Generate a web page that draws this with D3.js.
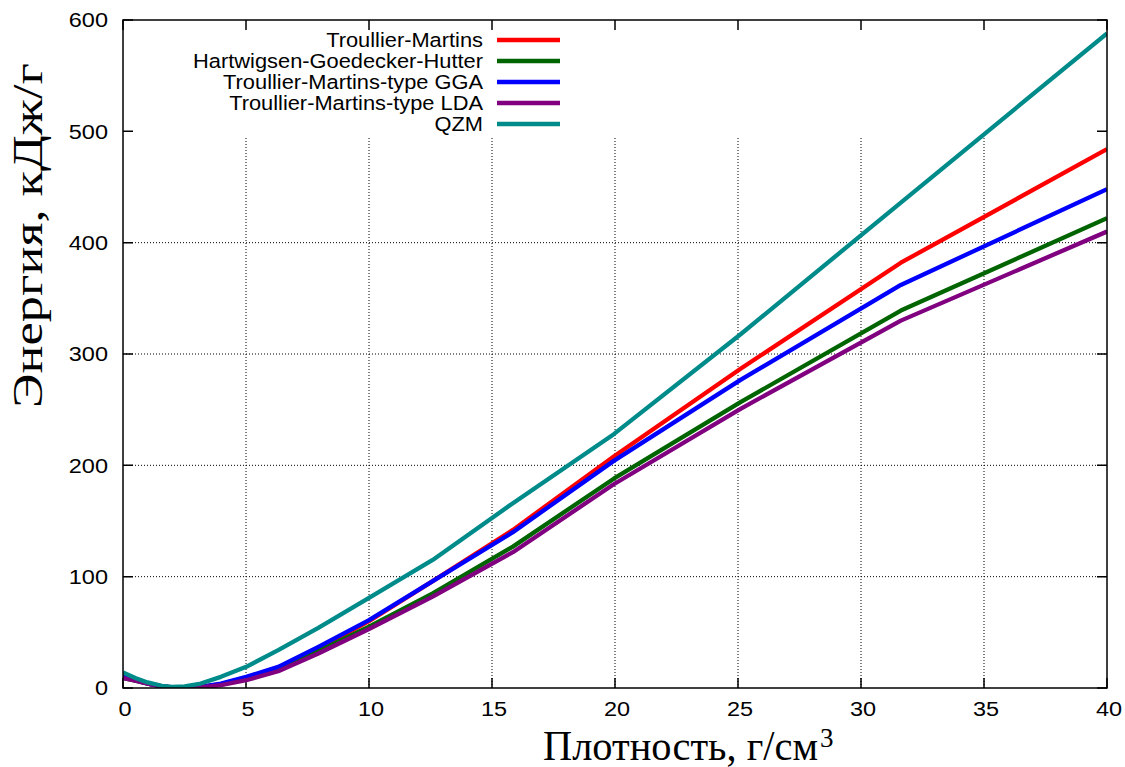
<!DOCTYPE html>
<html>
<head>
<meta charset="utf-8">
<script src="https://d3js.org/d3.v7.min.js"></script>
<style>
  body { margin: 0; background: #fff; }
  svg { display: block; }
</style>
</head>
<body>
<svg id="svg-main" width="1125" height="767"></svg>
<script>
// density, g/cm^3
var density = [0, 0.5, 1, 1.58, 2, 2.51, 3.16, 3.98, 5.01, 6.31, 7.94, 10, 12.59, 15.85, 19.95, 25.12, 31.62, 40];
// energy, kJ/g
var tm  = [10, 7, 4, 1.5, 0.5, 0, 1, 3.5, 9, 18, 35, 60, 96, 142, 208, 287, 382, 484];
var hgh = [9, 6.5, 4, 1.5, 0.5, 0, 1, 3, 8, 16, 33, 55, 85, 127, 188, 257, 339, 422];
var gga = [10, 7, 4, 1.5, 0.5, 0, 1, 4, 10, 19, 37, 61, 96, 140, 204, 277, 362, 448];
var lda = [9, 6.5, 4, 1.5, 0.5, 0, 0.5, 2.5, 7, 15, 31, 53, 82, 122, 183, 251, 330, 410];
var qzm = [14, 9, 5, 2, 1, 1.5, 4, 10, 19, 34, 54, 81, 115, 166, 228, 318, 436, 588];

var seriesNames = ["Troullier-Martins", "Hartwigsen-Goedecker-Hutter", "Troullier-Martins-type GGA", "Troullier-Martins-type LDA", "QZM"];
var seriesValues = [tm, hgh, gga, lda, qzm];
var seriesColors = ["#ff0000", "#006400", "#0000ff", "#800080", "#008b8b"];

var xTicks = [0, 5, 10, 15, 20, 25, 30, 35, 40];
var yTicks = [0, 100, 200, 300, 400, 500, 600];
var xGrid = [5, 10, 15, 20, 25, 30, 35];
var yGrid = [100, 200, 300, 400];

var svg = d3.select("#svg-main");
var pLeft = 123, pRight = 1107, pTop = 20, pBottom = 688;
var stretch = 1.12; // glyphs in the picture are a bit wide

var x = d3.scaleLinear().domain([0, 40]).range([pLeft, pRight]);
var y = d3.scaleLinear().domain([0, 600]).range([pBottom, pTop]);

svg.append("rect").attr("width", 1125).attr("height", 767).attr("fill", "white");

svg.append("clipPath").attr("id", "plot-clip")
   .append("rect")
   .attr("x", pLeft).attr("y", pTop)
   .attr("width", pRight - pLeft).attr("height", pBottom - pTop);

// grid (hidden under the key, so vertical lines stop short)
var gridTop = y(495);
svg.append("g").selectAll("line").data(xGrid).join("line")
   .attr("x1", function(d) { return x(d); })
   .attr("x2", function(d) { return x(d); })
   .attr("y1", pBottom).attr("y2", gridTop)
   .attr("stroke", "black").attr("stroke-width", 1)
   .attr("stroke-dasharray", "1,2");
svg.append("g").selectAll("line").data(yGrid).join("line")
   .attr("x1", pLeft).attr("x2", pRight)
   .attr("y1", function(d) { return y(d); })
   .attr("y2", function(d) { return y(d); })
   .attr("stroke", "black").attr("stroke-width", 1)
   .attr("stroke-dasharray", "1,2");

// ticks on all four sides, pointing inward
var tickLen = 10;
var axes = svg.append("g").attr("stroke", "black").attr("stroke-width", 1.5);
axes.selectAll(".xt").data(xTicks).join("path")
   .attr("d", function(d) {
       return "M" + x(d) + "," + pBottom + "v" + (-tickLen) + "M" + x(d) + "," + pTop + "v" + tickLen;
   });
axes.selectAll(".yt").data(yTicks).join("path")
   .attr("d", function(d) {
       return "M" + pLeft + "," + y(d) + "h" + tickLen + "M" + pRight + "," + y(d) + "h" + (-tickLen);
   });

// tick labels
function stretchedText(g, tx, ty) {
    return g.append("text")
            .attr("transform", "translate(" + tx + "," + ty + ") scale(" + stretch + ",1)");
}
var lab = svg.append("g")
   .attr("font-family", "'Liberation Sans', Arial, sans-serif")
   .attr("font-size", "21px")
   .attr("fill", "black");
xTicks.forEach(function(d) {
    stretchedText(lab, x(d) + 2, 716).attr("text-anchor", "middle").text(d);
});
yTicks.forEach(function(d) {
    stretchedText(lab, 108, y(d)).attr("text-anchor", "end").attr("dy", "0.35em").text(d);
});

// series
var line = d3.line()
   .x(function(d, i) { return x(density[i]); })
   .y(function(d) { return y(d); });
var plot = svg.append("g").attr("clip-path", "url(#plot-clip)");
seriesValues.forEach(function(vals, k) {
    plot.append("path")
        .datum(vals)
        .attr("d", line)
        .attr("fill", "none")
        .attr("stroke", seriesColors[k])
        .attr("stroke-width", 4.3)
        .attr("stroke-linejoin", "round");
});

// key
var key = svg.append("g")
   .attr("font-family", "'Liberation Sans', Arial, sans-serif")
   .attr("font-size", "19.5px")
   .attr("fill", "black");
seriesNames.forEach(function(name, k) {
    var ky = 40 + k * 21;
    stretchedText(key, 483, ky).attr("text-anchor", "end").attr("dy", "0.35em").text(name);
    key.append("line")
       .attr("x1", 497).attr("x2", 560)
       .attr("y1", ky).attr("y2", ky)
       .attr("stroke", seriesColors[k]).attr("stroke-width", 4.3);
});

// frame
svg.append("rect")
   .attr("x", pLeft).attr("y", pTop)
   .attr("width", pRight - pLeft).attr("height", pBottom - pTop)
   .attr("fill", "none").attr("stroke", "black").attr("stroke-width", 1.5);

// axis titles (LaTeX style serif)
var serif = "'Liberation Serif', 'DejaVu Serif', serif";
function fitWidth(t, cx, cy, width, rotate) {
    var w = t.node().getComputedTextLength();
    var s = width / w;
    t.attr("transform", "translate(" + cx + "," + cy + ")" + (rotate ? " rotate(-90)" : "") + " scale(" + s + ",1)");
}
var xt = svg.append("text")
   .attr("font-family", serif).attr("font-size", "43px").attr("fill", "black")
   .text("Плотность, г/см");
fitWidth(xt, 543, 760, 275, false);
svg.append("text")
   .attr("font-family", serif).attr("font-size", "27px").attr("fill", "black")
   .attr("x", 820).attr("y", 747)
   .text("3");

var yt = svg.append("text")
   .attr("font-family", serif).attr("font-size", "42px").attr("fill", "black")
   .text("Энергия, кДж/г");
fitWidth(yt, 42, 408, 345, true);
</script>
</body>
</html>
